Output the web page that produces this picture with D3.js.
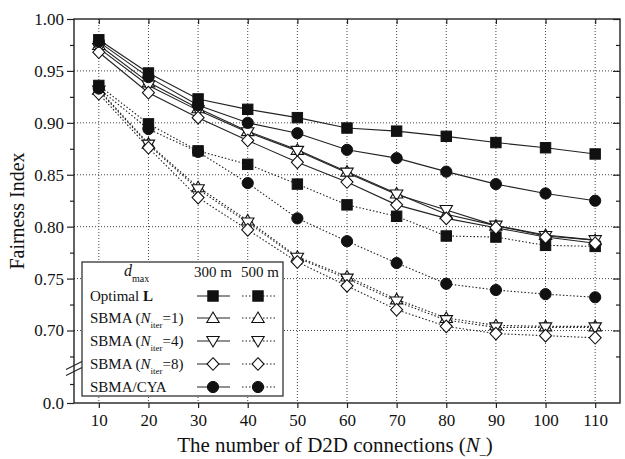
<!DOCTYPE html>
<html>
<head>
<meta charset="utf-8">
<script src="https://cdn.jsdelivr.net/npm/d3@7"></script>
<style>
  body { margin: 0; background: #fff; }
  text { font-family: "Liberation Serif", "DejaVu Serif", serif; fill: #111; }
</style>
</head>
<body>
<script>
// Data
// =================================
var xValues = [10, 20, 30, 40, 50, 60, 70, 80, 90, 100, 110];
var yTicks = [0.70, 0.75, 0.80, 0.85, 0.90, 0.95, 1.00];
var yMinorTicks = [0.675, 0.725, 0.775, 0.825, 0.875, 0.925, 0.975];

var seriesLabels = ["Optimal L", "SBMA (N_iter=1)", "SBMA (N_iter=4)", "SBMA (N_iter=8)", "SBMA/CYA"];
var seriesSymbols = ["square", "triUp", "triDown", "diamond", "circle"];

// d_max = 300 m (solid lines)
var optimal300 = [0.980, 0.948, 0.923, 0.913, 0.905, 0.895, 0.892, 0.887, 0.881, 0.876, 0.870];
var iter1_300 = [0.975, 0.939, 0.914, 0.892, 0.874, 0.853, 0.832, 0.812, 0.801, 0.792, 0.787];
var iter4_300 = [0.972, 0.936, 0.912, 0.891, 0.873, 0.852, 0.831, 0.816, 0.801, 0.791, 0.787];
var iter8_300 = [0.968, 0.929, 0.905, 0.883, 0.862, 0.843, 0.821, 0.808, 0.799, 0.790, 0.784];
var cya300 = [0.978, 0.944, 0.917, 0.900, 0.890, 0.874, 0.866, 0.853, 0.841, 0.832, 0.825];

// d_max = 500 m (dotted lines)
var optimal500 = [0.936, 0.899, 0.873, 0.860, 0.841, 0.821, 0.810, 0.791, 0.790, 0.782, 0.781];
var iter1_500 = [0.932, 0.880, 0.838, 0.806, 0.771, 0.752, 0.730, 0.712, 0.705, 0.704, 0.704];
var iter4_500 = [0.931, 0.879, 0.836, 0.804, 0.770, 0.750, 0.728, 0.710, 0.703, 0.703, 0.703];
var iter8_500 = [0.928, 0.876, 0.828, 0.797, 0.766, 0.743, 0.720, 0.704, 0.697, 0.695, 0.693];
var cya500 = [0.933, 0.894, 0.872, 0.842, 0.808, 0.786, 0.765, 0.745, 0.739, 0.735, 0.732];

var values300 = [optimal300, iter1_300, iter4_300, iter8_300, cya300];
var values500 = [optimal500, iter1_500, iter4_500, iter8_500, cya500];

// Set up chart
// =================================
var svgWidth = 625;
var svgHeight = 459;

var margin = { top: 19, right: 5, bottom: 56, left: 74 };

var chartWidth = svgWidth - margin.left - margin.right;
var chartHeight = svgHeight - margin.top - margin.bottom;

var svg = d3.select("body")
    .append("svg")
    .attr("width", svgWidth)
    .attr("height", svgHeight);

var chartGroup = svg.append("g")
    .attr("transform", `translate(${margin.left}, ${margin.top})`);

// scales (upper part of the broken axis; 0.0 sits at the bottom)
var xScale = d3.scaleLinear().domain([5, 115]).range([0, chartWidth]);
var yScale = d3.scaleLinear().domain([0.70, 1.00]).range([311.5, 0]);
var yLow = d3.scaleLinear().domain([0, 0.025]).range([chartHeight, chartHeight - 19]);

// grid lines
chartGroup.append("g")
    .selectAll("line")
    .data(xValues)
    .enter()
    .append("line")
    .attr("x1", d => xScale(d)).attr("x2", d => xScale(d))
    .attr("y1", 0).attr("y2", chartHeight)
    .attr("stroke", "#444").attr("stroke-width", 1).attr("stroke-dasharray", "1,2");

chartGroup.append("g")
    .selectAll("line")
    .data(yTicks.filter(d => d < 1))
    .enter()
    .append("line")
    .attr("x1", 0).attr("x2", chartWidth)
    .attr("y1", d => yScale(d)).attr("y2", d => yScale(d))
    .attr("stroke", "#444").attr("stroke-width", 1).attr("stroke-dasharray", "1,2");

// axes
function styleAxis(g) {
    g.select(".domain").remove();
    g.attr("font-family", null);
    g.selectAll("line").attr("stroke", "#222").attr("stroke-width", 1.2);
    g.selectAll("text").style("font-size", "17px").attr("fill", "#111");
}

chartGroup.append("g")
    .call(d3.axisLeft(yScale).tickValues(yTicks).tickFormat(d3.format(".2f")).tickSize(7).tickPadding(3))
    .call(styleAxis);
chartGroup.append("g")
    .call(d3.axisLeft(yScale).tickValues(yMinorTicks).tickFormat("").tickSize(4))
    .call(styleAxis);
var lowAxis = chartGroup.append("g")
    .call(d3.axisLeft(yLow).tickValues([0, 0.025]).tickFormat((d, i) => i === 0 ? "0.0" : "").tickSize(7).tickPadding(3))
    .call(styleAxis);
lowAxis.selectAll(".tick").filter(d => d > 0).select("line").attr("x2", -4);

// right axis, ticks pointing in
chartGroup.append("g")
    .attr("transform", `translate(${chartWidth}, 0)`)
    .call(d3.axisRight(yScale).tickValues(yTicks).tickFormat("").tickSize(-7))
    .call(styleAxis);
chartGroup.append("g")
    .attr("transform", `translate(${chartWidth}, 0)`)
    .call(d3.axisRight(yScale).tickValues(yMinorTicks).tickFormat("").tickSize(-4))
    .call(styleAxis);

chartGroup.append("g")
    .attr("transform", `translate(0, ${chartHeight})`)
    .call(d3.axisBottom(xScale).tickValues(xValues).tickSize(5).tickPadding(6))
    .call(styleAxis);

chartGroup.append("g")
    .call(d3.axisTop(xScale).tickValues(xValues).tickFormat("").tickSize(-5))
    .call(styleAxis);

// frame
chartGroup.append("rect")
    .attr("x", 0).attr("y", 0)
    .attr("width", chartWidth).attr("height", chartHeight)
    .attr("fill", "none").attr("stroke", "#222").attr("stroke-width", 1.4);

// axis break on left axis
var breakY = yScale(0.70) + 38;
[-3, 3].forEach(function (off) {
    chartGroup.append("line")
        .attr("x1", -8).attr("y1", breakY + off + 4)
        .attr("x2", 8).attr("y2", breakY + off - 4)
        .attr("stroke", "#222").attr("stroke-width", 1.2);
});

// symbols
var symbolPaths = {
    triUp: "M0,-6L6.2,4.5L-6.2,4.5Z",
    triDown: "M0,6L6.2,-4.5L-6.2,-4.5Z",
    diamond: "M0,-6.3L6,0L0,6.3L-6,0Z"
};

function drawSymbol(g, type, cx, cy) {
    if (type === "square") {
        g.append("rect").attr("x", cx - 5.2).attr("y", cy - 5.2).attr("width", 10.4).attr("height", 10.4)
            .attr("fill", "#111").attr("stroke", "#111");
    } else if (type === "circle") {
        g.append("circle").attr("cx", cx).attr("cy", cy).attr("r", 5.6).attr("fill", "#111").attr("stroke", "#111");
    } else {
        g.append("path")
            .attr("d", symbolPaths[type])
            .attr("transform", `translate(${cx}, ${cy})`)
            .attr("fill", "#fff").attr("stroke", "#111").attr("stroke-width", 1.1);
    }
}

var lineGen = d3.line()
    .x((d, i) => xScale(xValues[i]))
    .y(d => yScale(d));

function drawSeries(valuesList, dashed) {
    var g = chartGroup.append("g");
    valuesList.forEach(function (vals) {
        g.append("path")
            .attr("d", lineGen(vals))
            .attr("fill", "none")
            .attr("stroke", "#222")
            .attr("stroke-width", 1.1)
            .attr("stroke-dasharray", dashed ? "1.5,2" : null);
    });
    valuesList.forEach(function (vals, k) {
        vals.forEach(function (v, i) {
            drawSymbol(g, seriesSymbols[k], xScale(xValues[i]), yScale(v));
        });
    });
}

drawSeries(values500, true);
drawSeries(values300, false);

// legend
var legend = svg.append("g");
legend.append("rect")
    .attr("x", 82).attr("y", 262).attr("width", 201).attr("height", 134)
    .attr("fill", "#fff").attr("stroke", "#222").attr("stroke-width", 1.2);

var header = legend.append("text").attr("x", 124).attr("y", 276).style("font-size", "16px");
header.append("tspan").style("font-style", "italic").text("d");
header.append("tspan").attr("dy", 6).style("font-size", "10px").text("max");

legend.append("text").attr("x", 213).attr("y", 277).attr("text-anchor", "middle").style("font-size", "15px").text("300 m");
legend.append("text").attr("x", 260).attr("y", 277).attr("text-anchor", "middle").style("font-size", "15px").text("500 m");

var rowY = [296, 318, 341, 364, 387];
seriesLabels.forEach(function (label, k) {
    var t = legend.append("text").attr("x", 90).attr("y", rowY[k] + 5).style("font-size", "15px");
    if (k === 0) {
        t.append("tspan").text("Optimal ");
        t.append("tspan").style("font-weight", "bold").text("L");
    } else if (k < 4) {
        var n = label.match(/=(\d)/)[1];
        t.append("tspan").text("SBMA (");
        t.append("tspan").style("font-style", "italic").text("N");
        t.append("tspan").attr("dy", 5).style("font-size", "9px").text("iter");
        t.append("tspan").attr("dy", -5).text("=" + n + ")");
    } else {
        t.text(label);
    }
    legend.append("line").attr("x1", 197).attr("x2", 230).attr("y1", rowY[k]).attr("y2", rowY[k])
        .attr("stroke", "#222").attr("stroke-width", 1.1);
    legend.append("line").attr("x1", 242).attr("x2", 275).attr("y1", rowY[k]).attr("y2", rowY[k])
        .attr("stroke", "#222").attr("stroke-width", 1.1).attr("stroke-dasharray", "1.5,2");
    drawSymbol(legend, seriesSymbols[k], 213, rowY[k]);
    drawSymbol(legend, seriesSymbols[k], 258, rowY[k]);
});

// axis titles
var xTitle = svg.append("text")
    .attr("x", 335).attr("y", 452)
    .attr("text-anchor", "middle").style("font-size", "21px");
xTitle.append("tspan").text("The number of D2D connections (");
xTitle.append("tspan").style("font-style", "italic").text("N");
xTitle.append("tspan").attr("dy", 2).style("font-size", "12px").text("_");
xTitle.append("tspan").attr("dy", -2).text(")");

svg.append("text")
    .attr("transform", `translate(24, ${margin.top + chartHeight / 2}) rotate(-90)`)
    .attr("text-anchor", "middle").style("font-size", "20px")
    .text("Fairness Index");
</script>
</body>
</html>
